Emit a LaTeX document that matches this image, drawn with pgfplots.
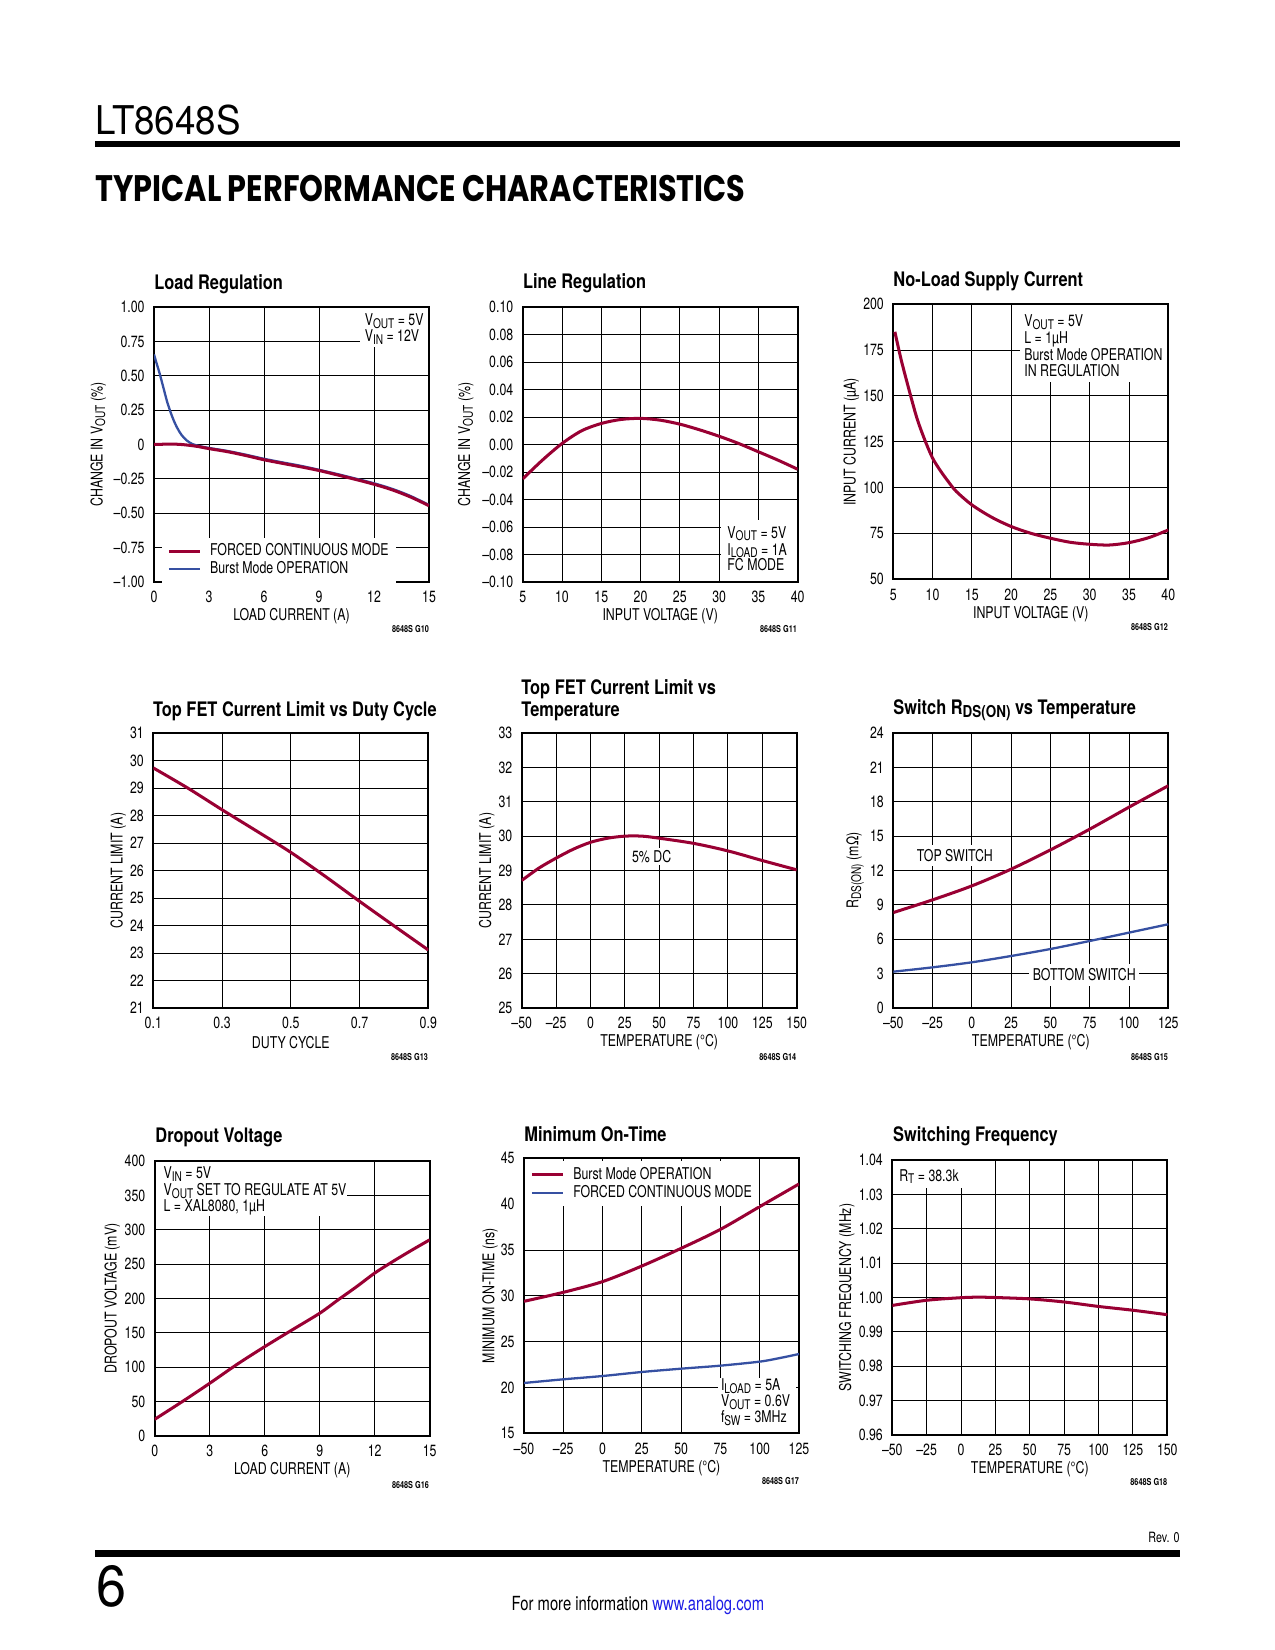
\documentclass[border=0pt]{standalone}
\usepackage{fontspec}
\usepackage{graphicx}
\usepackage{pgfplots}
\pgfplotsset{compat=1.18}
\setmainfont{TeX Gyre Heros}[FakeStretch=0.76]
\newfontfamily\titlefont{TeX Gyre Heros}[FakeStretch=0.82]
\newfontfamily\hfont{Poppins}
\definecolor{ltred}{RGB}{153,0,51}
\definecolor{ltblue}{RGB}{54,80,162}
\definecolor{linkblue}{RGB}{30,30,230}
\newcommand{\tf}{\fontsize{7.8}{7.9}\selectfont}
\newcommand{\sub}[1]{\raisebox{-1.3pt}{\scalebox{0.82}{#1}}}
\newcommand{\ttl}{\titlefont\bfseries\fontsize{9.6}{10}\selectfont}
\newcommand{\gf}{\bfseries\fontsize{4.6}{5}\selectfont}
\pgfplotsset{
  ds/.style={anchor=south west, scale only axis, width=132pt, height=132pt,
    grid=major, grid style={black, line width=0.45pt},
    axis line style={black, line width=0.9pt},
    major tick length=0pt, tick style={draw=none},
    tick label style={font=\tf, text=black},
    xticklabel style={yshift=-1pt},
    yticklabel style={xshift=-1pt},
    label style={font=\tf},
    xlabel style={at={(axis description cs:0.5,-0.125)}, anchor=center},
    ylabel style={anchor=center},
    legend cell align=left,
    legend style={draw=none, fill=white, font=\tf, inner xsep=2.5pt, inner ysep=2pt,
      row sep=-0.4pt, nodes={inner sep=0.8pt},
      /tikz/every odd column/.style={column sep=3.5pt}},
    legend image code/.code={\draw[#1] (0pt,0pt) -- (14.8pt,0pt);},
  },
  redc/.style={ltred, line width=1.45pt, smooth, no markers},
  bluec/.style={ltblue, line width=1.1pt, smooth, no markers},
}
\begin{document}
\begin{tikzpicture}
\fill[white] (0,0) rectangle (612pt,-792pt);
\path[use as bounding box] (0,0) rectangle (612pt,-792pt);

\begin{scope}[x=0.48pt,y=-0.48pt]
% header
\node[anchor=base west, inner sep=0] at (95,134.7) {\resizebox{69.7pt}{14.2pt}{LT8648S}};
\fill[black] (95,141) rectangle (1180,147.5);
\node[anchor=base west, inner sep=0] at (95,202) {\resizebox{312pt}{12.6pt}{\hfont\bfseries TYPICAL PERFORMANCE CHARACTERISTICS}};
% footer
\node[anchor=base east, inner sep=0, font=\fontsize{6.8}{7}\selectfont] at (1180,1542) {Rev. 0};
\fill[black] (95,1550) rectangle (1180,1556.5);
\node[anchor=base west, inner sep=0] at (95.7,1606.4) {\resizebox{14.4pt}{19.7pt}{6}};
\node[anchor=base west, inner sep=0] at (511.3,1610) {\resizebox{121.2pt}{!}{\fontsize{8.5}{9}\selectfont For more information \textcolor{linkblue}{www.analog.com}}};
% titles
\node[anchor=base west, inner sep=0, font=\ttl] at (154,289.3) {Load Regulation};
\node[anchor=base west, inner sep=0, font=\ttl] at (522.7,289) {Line Regulation};
\node[anchor=base west, inner sep=0, font=\ttl] at (893,287) {No-Load Supply Current};
\node[anchor=base west, inner sep=0, font=\ttl] at (152.7,716.7) {Top FET Current Limit vs Duty Cycle};
\node[anchor=base west, inner sep=0, font=\ttl] at (521,694) {Top FET Current Limit vs};
\node[anchor=base west, inner sep=0, font=\ttl] at (521,716) {Temperature};
\node[anchor=base west, inner sep=0, font=\ttl] at (893,714.3) {Switch R\sub{DS(ON)} vs Temperature};
\node[anchor=base west, inner sep=0, font=\ttl] at (155,1142.7) {Dropout Voltage};
\node[anchor=base west, inner sep=0, font=\ttl] at (524,1141) {Minimum On-Time};
\node[anchor=base west, inner sep=0, font=\ttl] at (892.7,1141.7) {Switching Frequency};
% figure codes
\node[anchor=east, inner sep=0, font=\gf] at (429.3,629.3) {8648S G10};
\node[anchor=east, inner sep=0, font=\gf] at (797.3,629.3) {8648S G11};
\node[anchor=east, inner sep=0, font=\gf] at (1168.3,627.3) {8648S G12};
\node[anchor=east, inner sep=0, font=\gf] at (428.3,1056.7) {8648S G13};
\node[anchor=east, inner sep=0, font=\gf] at (796.7,1056.7) {8648S G14};
\node[anchor=east, inner sep=0, font=\gf] at (1168.3,1056.7) {8648S G15};
\node[anchor=east, inner sep=0, font=\gf] at (429.3,1485) {8648S G16};
\node[anchor=east, inner sep=0, font=\gf] at (799.3,1480.7) {8648S G17};
\node[anchor=east, inner sep=0, font=\gf] at (1167.7,1481.7) {8648S G18};
\end{scope}

% ---------- Chart 1: Load Regulation
\begin{axis}[ds, at={(73.92pt,-279.36pt)},
  xmin=0, xmax=15, ymin=-1, ymax=1,
  xtick={0,3,6,9,12,15}, xticklabels={0,3,6,9,12,15},
  ytick={-1,-0.75,-0.5,-0.25,0,0.25,0.5,0.75,1},
  yticklabels={–1.00,–0.75,–0.50,–0.25,0,0.25,0.50,0.75,1.00},
  xlabel={LOAD CURRENT (A)}, ylabel={CHANGE IN V\sub{OUT} (\%)},
  ylabel style={at={(axis description cs:-0.203,0.5)}},
  reverse legend,
  legend style={at={(0.028,0.162)}, anchor=north west}]
\addplot[bluec] coordinates {(0,0.655)(0.12,0.60)(0.3,0.52)(0.5,0.42)(0.73,0.305)(1,0.2)(1.25,0.125)(1.5,0.07)(1.78,0.03)(2.1,0.003)(2.5,-0.012)(3,-0.025)(4,-0.047)(5,-0.074)(6,-0.104)(7,-0.13)(8,-0.155)(9,-0.184)(10,-0.215)(11,-0.248)(12,-0.282)(13,-0.323)(14,-0.375)(15,-0.44)};
\addlegendentry{Burst Mode OPERATION}
\addplot[redc] coordinates {(0,0)(0.5,0.002)(1,0.003)(1.5,0.0)(2,-0.007)(2.5,-0.017)(3,-0.03)(4,-0.052)(5,-0.08)(6,-0.111)(7,-0.137)(8,-0.162)(9,-0.189)(10,-0.221)(11,-0.254)(12,-0.289)(13,-0.33)(14,-0.382)(15,-0.445)};
\addlegendentry{FORCED CONTINUOUS MODE}
\fill[white] (rel axis cs:0.749,0.855) rectangle (rel axis cs:0.997,0.997);
\node[anchor=base west, inner sep=0, font=\tf] at (rel axis cs:0.765,0.931) {V\sub{OUT} = 5V};
\node[anchor=base west, inner sep=0, font=\tf] at (rel axis cs:0.765,0.874) {V\sub{IN} = 12V};
\end{axis}

% ---------- Chart 2: Line Regulation
\begin{axis}[ds, at={(250.9pt,-279.36pt)},
  xmin=5, xmax=40, ymin=-0.1, ymax=0.1,
  xtick={5,10,15,20,25,30,35,40}, xticklabels={5,10,15,20,25,30,35,40},
  ytick={-0.1,-0.08,-0.06,-0.04,-0.02,0,0.02,0.04,0.06,0.08,0.1},
  yticklabels={–0.10,–0.08,–0.06,–0.04,–0.02,0.00,0.02,0.04,0.06,0.08,0.10},
  xlabel={INPUT VOLTAGE (V)}, ylabel={CHANGE IN V\sub{OUT} (\%)},
  ylabel style={at={(axis description cs:-0.207,0.5)}}]
\addplot[redc] coordinates {(5,-0.025)(7.5,-0.0114)(10,0.0007)(12.5,0.0100)(15,0.0153)(17.5,0.0182)(20,0.0190)(22.5,0.0177)(25,0.0148)(27.5,0.0107)(30,0.0060)(32.5,0.0007)(35,-0.0053)(37.5,-0.0114)(40,-0.0180)};
\fill[white] (rel axis cs:0.721,0.003) rectangle (rel axis cs:0.997,0.226);
\node[anchor=base west, inner sep=0, font=\tf] at (rel axis cs:0.743,0.159) {V\sub{OUT} = 5V};
\node[anchor=base west, inner sep=0, font=\tf] at (rel axis cs:0.743,0.098) {I\sub{LOAD} = 1A};
\node[anchor=base west, inner sep=0, font=\tf] at (rel axis cs:0.743,0.041) {FC MODE};
\end{axis}

% ---------- Chart 3: No-Load Supply Current
\begin{axis}[ds, at={(428.78pt,-278.06pt)},
  xmin=5, xmax=40, ymin=50, ymax=200,
  xtick={5,10,15,20,25,30,35,40}, xticklabels={5,10,15,20,25,30,35,40},
  ytick={50,75,100,125,150,175,200}, yticklabels={50,75,100,125,150,175,200},
  xlabel={INPUT VOLTAGE (V)}, ylabel={INPUT CURRENT (µA)},
  ylabel style={at={(axis description cs:-0.153,0.5)}}]
\addplot[redc] coordinates {(5.2,185)(6,169.8)(7,153.4)(8,138)(9,126.1)(10,116.1)(11,109.2)(12,103.3)(13,98)(15,90.6)(17.5,83.9)(20,78.8)(22.5,75.1)(25,72.4)(27.5,70.2)(30,69.1)(32.5,68.7)(35,70.0)(37.5,72.7)(40,76.9)};
\fill[white] (rel axis cs:0.461,0.718) rectangle (rel axis cs:0.997,0.997);
\node[anchor=base west, inner sep=0, font=\tf] at (rel axis cs:0.475,0.919) {V\sub{OUT} = 5V};
\node[anchor=base west, inner sep=0, font=\tf] at (rel axis cs:0.475,0.858) {L = 1µH};
\node[anchor=base west, inner sep=0, font=\tf] at (rel axis cs:0.475,0.797) {Burst Mode OPERATION};
\node[anchor=base west, inner sep=0, font=\tf] at (rel axis cs:0.475,0.737) {IN REGULATION};
\end{axis}

% ---------- Chart 4: Current limit vs duty cycle
\begin{axis}[ds, at={(73.58pt,-483.84pt)},
  xmin=0.1, xmax=0.9, ymin=21, ymax=31,
  xtick={0.1,0.3,0.5,0.7,0.9}, xticklabels={0.1,0.3,0.5,0.7,0.9},
  ytick={21,22,23,24,25,26,27,28,29,30,31}, yticklabels={21,22,23,24,25,26,27,28,29,30,31},
  xlabel={DUTY CYCLE}, ylabel={CURRENT LIMIT (A)},
  ylabel style={at={(axis description cs:-0.127,0.5)}}]
\addplot[redc] coordinates {(0.1,29.73)(0.2,29.0)(0.3,28.21)(0.4,27.44)(0.5,26.66)(0.6,25.79)(0.7,24.88)(0.8,23.99)(0.9,23.11)};
\end{axis}

% ---------- Chart 5: Current limit vs temperature
\begin{axis}[ds, at={(250.42pt,-483.84pt)},
  xmin=-50, xmax=150, ymin=25, ymax=33,
  xtick={-50,-25,0,25,50,75,100,125,150}, xticklabels={–50,–25,0,25,50,75,100,125,150},
  ytick={25,26,27,28,29,30,31,32,33}, yticklabels={25,26,27,28,29,30,31,32,33},
  xlabel={TEMPERATURE (°C)}, ylabel={CURRENT LIMIT (A)},
  ylabel style={at={(axis description cs:-0.127,0.5)}}]
\addplot[redc] coordinates {(-50,28.71)(-37.5,29.07)(-25,29.36)(-12.5,29.62)(0,29.82)(12.5,29.94)(25,30.0)(37.5,30.0)(50,29.94)(75,29.79)(100,29.57)(125,29.29)(150,29.02)};
\node[fill=white, inner xsep=1.5pt, inner ysep=1.2pt, font=\tf] at (axis cs:44.5,29.41) {5\% DC};
\end{axis}

% ---------- Chart 6: RDS(ON)
\begin{axis}[ds, at={(428.78pt,-483.84pt)},
  xmin=-50, xmax=125, ymin=0, ymax=24,
  xtick={-50,-25,0,25,50,75,100,125}, xticklabels={–50,–25,0,25,50,75,100,125},
  ytick={0,3,6,9,12,15,18,21,24}, yticklabels={0,3,6,9,12,15,18,21,24},
  xlabel={TEMPERATURE (°C)}, ylabel={R\sub{DS(ON)} (mΩ)},
  ylabel style={at={(axis description cs:-0.139,0.5)}}]
\addplot[redc] coordinates {(-50,8.33)(-25,9.44)(0,10.66)(25,12.12)(50,13.8)(75,15.61)(100,17.53)(125,19.4)};
\addplot[bluec] coordinates {(-50,3.17)(-25,3.55)(0,3.99)(25,4.54)(50,5.15)(75,5.85)(100,6.58)(125,7.31)};
\node[fill=white, inner xsep=1.5pt, inner ysep=2pt, font=\tf] at (axis cs:-10.8,13.31) {TOP SWITCH};
\node[fill=white, inner xsep=1.6pt, inner ysep=2.4pt, font=\tf] at (axis cs:71.5,2.9) {BOTTOM SWITCH};
\end{axis}

% ---------- Chart 7: Dropout voltage
\begin{axis}[ds, at={(74.26pt,-689.28pt)},
  xmin=0, xmax=15, ymin=0, ymax=400,
  xtick={0,3,6,9,12,15}, xticklabels={0,3,6,9,12,15},
  ytick={0,50,100,150,200,250,300,350,400}, yticklabels={0,50,100,150,200,250,300,350,400},
  xlabel={LOAD CURRENT (A)}, ylabel={DROPOUT VOLTAGE (mV)},
  ylabel style={at={(axis description cs:-0.154,0.5)}}]
\addplot[redc] coordinates {(0,24.3)(1.5,50)(3,76.7)(4.5,104.4)(6,130)(7.5,154.4)(9,178.6)(10,198)(11,217)(12,237)(13,254)(14,270)(15,285.4)};
\fill[white] (rel axis cs:0.003,0.799) rectangle (rel axis cs:0.699,0.997);
\node[anchor=base west, inner sep=0, font=\tf] at (rel axis cs:0.031,0.936) {V\sub{IN} = 5V};
\node[anchor=base west, inner sep=0, font=\tf] at (rel axis cs:0.031,0.875) {V\sub{OUT} SET TO REGULATE AT 5V};
\node[anchor=base west, inner sep=0, font=\tf] at (rel axis cs:0.031,0.817) {L = XAL8080, 1µH};
\end{axis}

% ---------- Chart 8: Minimum on-time
\begin{axis}[ds, at={(251.52pt,-687.98pt)},
  xmin=-50, xmax=125, ymin=15, ymax=45,
  xtick={-50,-25,0,25,50,75,100,125}, xticklabels={–50,–25,0,25,50,75,100,125},
  ytick={15,20,25,30,35,40,45}, yticklabels={15,20,25,30,35,40,45},
  xlabel={TEMPERATURE (°C)}, ylabel={MINIMUM ON-TIME (ns)},
  ylabel style={at={(axis description cs:-0.124,0.5)}},
  legend style={at={(0.003,0.99)}, anchor=north west}]
\addplot[redc] coordinates {(-50,29.4)(-25,30.38)(0,31.55)(25,33.25)(50,35.18)(75,37.25)(100,39.73)(125,42.2)};
\addlegendentry{Burst Mode OPERATION}
\addplot[bluec] coordinates {(-50,20.49)(-25,20.89)(0,21.25)(25,21.69)(50,22.05)(75,22.38)(100,22.82)(112.5,23.2)(125,23.65)};
\addlegendentry{FORCED CONTINUOUS MODE}
\fill[white] (rel axis cs:0.707,0.003) rectangle (rel axis cs:0.99,0.2);
\node[anchor=base west, inner sep=0, font=\tf] at (rel axis cs:0.715,0.155) {I\sub{LOAD} = 5A};
\node[anchor=base west, inner sep=0, font=\tf] at (rel axis cs:0.715,0.097) {V\sub{OUT} = 0.6V};
\node[anchor=base west, inner sep=0, font=\tf] at (rel axis cs:0.715,0.039) {f\sub{SW} = 3MHz};
\end{axis}

% ---------- Chart 9: Switching frequency
\begin{axis}[ds, at={(428.3pt,-688.8pt)},
  xmin=-50, xmax=150, ymin=0.96, ymax=1.04,
  xtick={-50,-25,0,25,50,75,100,125,150}, xticklabels={–50,–25,0,25,50,75,100,125,150},
  ytick={0.96,0.97,0.98,0.99,1.0,1.01,1.02,1.03,1.04},
  yticklabels={0.96,0.97,0.98,0.99,1.00,1.01,1.02,1.03,1.04},
  xlabel={TEMPERATURE (°C)}, ylabel={SWITCHING FREQUENCY (MHz)},
  ylabel style={at={(axis description cs:-0.166,0.5)}}]
\addplot[redc] coordinates {(-50,0.9977)(-25,0.9992)(0,0.99995)(12.5,1.0001)(25,1.0)(50,0.9996)(75,0.9987)(100,0.9974)(125,0.9963)(150,0.9950)};
\fill[white] (rel axis cs:0.003,0.897) rectangle (rel axis cs:0.257,0.997);
\node[anchor=base west, inner sep=0, font=\tf] at (rel axis cs:0.024,0.923) {R\sub{T} = 38.3k};
\end{axis}
\end{tikzpicture}
\end{document}
